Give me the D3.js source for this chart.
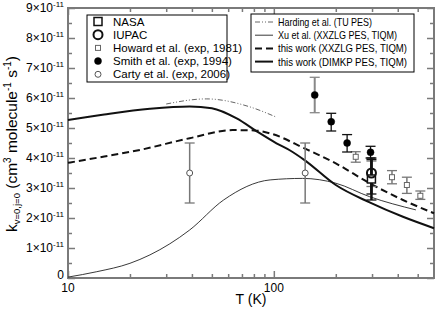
<!DOCTYPE html>
<html>
<head>
<meta charset="utf-8">
<script src="https://cdn.jsdelivr.net/npm/d3@7"></script>
<style>
  body { margin: 0; background: #fff; }
  svg { display: block; font-family: "Liberation Sans", Arial, sans-serif; }
</style>
</head>
<body>
<svg id="chart" width="436" height="310"></svg>
<script>
// rate constants in units of 1e-11 cm3 molecule-1 s-1
var dimkp = [[10,5.27],[15,5.45],[25,5.64],[39,5.72],[50,5.66],[66,5.32],[83,4.88],[103,4.49],[120,4.25],[141,3.93],[200,3.1],[292,2.52],[424,2.04],[600,1.66]];
var xxzlg = [[10,3.84],[15,4.05],[22.4,4.27],[39,4.66],[63,4.93],[80,4.92],[96,4.82],[141,4.32],[200,3.82],[292,3.16],[424,2.6],[600,2.16]];
var xu = [[10,0.03],[13.8,0.21],[20,0.49],[25,0.77],[39,1.6],[57,2.6],[96,3.27],[138,3.32],[200,3.16],[292,2.71],[490,2.27]];
var harding = [[30,5.8],[47,5.97],[76,5.71],[103,5.36]];

// points: T, k, low, high
var nasa = [[298,3.3,2.8,3.95]];
var iupac = [[298,3.5,2.6,4.0]];
var howard = [[250,4.04,3.86,4.21],[298,3.3,3.05,3.9],[375,3.36,3.14,3.58],[443,3.1,2.82,3.36],[515,2.74,2.62,2.9]];
var smith = [[158,6.1,5.51,6.69],[190,5.21,4.9,5.49],[227,4.5,4.2,4.78],[295,4.19,4.0,4.39]];
var carty = [[39,3.5,2.5,4.5],[142,3.5,2.5,4.5]];

var yTicks = [0,1,2,3,4,5,6,7,8,9];
var xTicks = [10,100];

var svg = d3.select('#chart');
var L = 68, R = 434, T = 8, B = 278;
var x = d3.scaleLog().domain([10,600]).range([L,R]);
var y = d3.scaleLinear().domain([0,9]).range([B,T]);
var axisCol = '#7a7a7a';

var minorX = [20,30,40,50,60,70,80,90,200,300,400,500];
var minorY = d3.range(0.5,9,1);

function ticks(g){
  g.select('.domain').remove();
  g.selectAll('line').attr('stroke',axisCol).attr('stroke-width',1.5);
  g.selectAll('text').remove();
}
svg.append('g').attr('transform','translate(0,'+B+')').call(d3.axisBottom(x).tickValues(xTicks).tickSize(-7)).call(ticks);
svg.append('g').attr('transform','translate(0,'+B+')').call(d3.axisBottom(x).tickValues(minorX).tickSize(-4)).call(ticks);
svg.append('g').attr('transform','translate(0,'+T+')').call(d3.axisTop(x).tickValues(xTicks).tickSize(-7)).call(ticks);
svg.append('g').attr('transform','translate(0,'+T+')').call(d3.axisTop(x).tickValues(minorX).tickSize(-4)).call(ticks);
svg.append('g').attr('transform','translate('+L+',0)').call(d3.axisLeft(y).tickValues(yTicks).tickSize(-7)).call(ticks);
svg.append('g').attr('transform','translate('+L+',0)').call(d3.axisLeft(y).tickValues(minorY).tickSize(-4)).call(ticks);
svg.append('g').attr('transform','translate('+R+',0)').call(d3.axisRight(y).tickValues(yTicks).tickSize(-7)).call(ticks);
svg.append('g').attr('transform','translate('+R+',0)').call(d3.axisRight(y).tickValues(minorY).tickSize(-4)).call(ticks);

svg.append('rect').attr('x',L).attr('y',T).attr('width',R-L).attr('height',B-T)
  .attr('fill','none').attr('stroke',axisCol).attr('stroke-width',2);

// tick labels
yTicks.forEach(function(v){
  var t = svg.append('text').attr('x',L-4).attr('y',y(v)+4).attr('text-anchor','end').attr('font-size',12);
  if (v===0) { t.attr('y',y(v)+1).text('0'); return; }
  t.append('tspan').text(v+'\u00d710');
  t.append('tspan').attr('dy',-5).attr('font-size',8).text('-11');
});
xTicks.forEach(function(v){
  svg.append('text').attr('x',x(v)).attr('y',B+14).attr('text-anchor','middle').attr('font-size',12).text(v);
});
svg.append('text').attr('x',(L+R)/2).attr('y',304).attr('text-anchor','middle').attr('font-size',14).text('T (K)');

var yl = svg.append('text').attr('transform','translate(17,144) rotate(-90)')
  .attr('text-anchor','middle').attr('font-size',15.5);
yl.append('tspan').text('k');
yl.append('tspan').attr('dy',3).attr('font-size',9.5).text('v=0,j=0');
yl.append('tspan').attr('dy',-3).text(' (cm');
yl.append('tspan').attr('dy',-6).attr('font-size',10).text('3');
yl.append('tspan').attr('dy',6).text(' molecule');
yl.append('tspan').attr('dy',-6).attr('font-size',10).text('-1');
yl.append('tspan').attr('dy',6).text(' s');
yl.append('tspan').attr('dy',-6).attr('font-size',10).text('-1');
yl.append('tspan').attr('dy',6).text(')');

// curves
var line = d3.line().x(d=>x(d[0])).y(d=>y(d[1])).curve(d3.curveMonotoneX);
var g = svg.append('g');
g.append('path').attr('d',line(harding)).attr('fill','none').attr('stroke','#555').attr('stroke-width',0.9).attr('stroke-dasharray','5,2,1,2,1,2');
g.append('path').attr('d',line(xu)).attr('fill','none').attr('stroke','#222').attr('stroke-width',0.9);
g.append('path').attr('d',line(xxzlg)).attr('fill','none').attr('stroke','#111').attr('stroke-width',2).attr('stroke-dasharray','7,4');
g.append('path').attr('d',line(dimkp)).attr('fill','none').attr('stroke','#111').attr('stroke-width',2);

// error bars
function bars(data,col,w){
  data.forEach(function(d){
    var cx = x(d[0]);
    g.append('line').attr('x1',cx).attr('x2',cx).attr('y1',y(d[2])).attr('y2',y(d[3])).attr('stroke',col).attr('stroke-width',w);
    [d[2],d[3]].forEach(function(v){
      g.append('line').attr('x1',cx-5).attr('x2',cx+5).attr('y1',y(v)).attr('y2',y(v)).attr('stroke',col).attr('stroke-width',1.3);
    });
  });
}
bars(carty,'#777',1.5);
bars(howard,'#777',1.5);
bars(smith.slice(0,1),'#888',2);
bars(smith.slice(1),'#111',1.3);
bars(nasa,'#111',2.5);
bars(iupac,'#111',2.5);

function square(sel,s,col,w){ sel.append('rect').attr('x',-s/2).attr('y',-s/2).attr('width',s).attr('height',s).attr('fill','#fff').attr('stroke',col).attr('stroke-width',w); }
function circle(sel,r,col,w,fill){ sel.append('circle').attr('r',r).attr('fill',fill).attr('stroke',col).attr('stroke-width',w); }

var sym = {
  nasa: s=>square(s,8,'#111',1.5),
  iupac: s=>circle(s,4.5,'#111',2,'none'),
  howard: s=>square(s,5,'#666',1),
  smith: s=>circle(s,3.5,'#000',0.5,'#000'),
  carty: s=>circle(s,3,'#555',1,'#fff')
};
[['howard',howard],['carty',carty],['smith',smith],['nasa',nasa],['iupac',iupac]].forEach(function(p){
  p[1].forEach(function(d){
    var s = g.append('g').attr('transform','translate('+x(d[0])+','+y(d[1])+')');
    sym[p[0]](s);
  });
});

// legends
var leg1 = [['nasa','NASA'],['iupac','IUPAC'],['howard','Howard et al. (exp, 1981)'],['smith','Smith et al. (exp, 1994)'],['carty','Carty et al. (exp, 2006)']];
svg.append('rect').attr('x',87).attr('y',15).attr('width',140).attr('height',67).attr('fill','#fff').attr('stroke','#000').attr('stroke-width',1);
leg1.forEach(function(d,i){
  var cy = 21.5 + i*13.2;
  var s = svg.append('g').attr('transform','translate(98,'+cy+')');
  sym[d[0]](s);
  svg.append('text').attr('x',113).attr('y',cy+4).attr('font-size',11.5).text(d[1]);
});

var leg2 = [['Harding et al. (TU PES)','#555',0.9,'5,2,1,2,1,2',94],['Xu et al. (XXZLG PES, TIQM)','#222',0.9,null,119],['this work (XXZLG PES, TIQM)','#111',2,'7,4',129],['this work (DIMKP PES, TIQM)','#111',2,null,129]];
svg.append('rect').attr('x',251).attr('y',14).attr('width',163).attr('height',58).attr('fill','#fff').attr('stroke','#000').attr('stroke-width',1);
leg2.forEach(function(d,i){
  var cy = 22 + i*13.2;
  svg.append('line').attr('x1',255).attr('x2',273).attr('y1',cy).attr('y2',cy).attr('stroke',d[1]).attr('stroke-width',d[2]).attr('stroke-dasharray',d[3]);
  svg.append('text').attr('x',278).attr('y',cy+4).attr('font-size',11.5)
    .attr('textLength',d[4]).attr('lengthAdjust','spacingAndGlyphs').text(d[0]);
});
</script>
</body>
</html>
